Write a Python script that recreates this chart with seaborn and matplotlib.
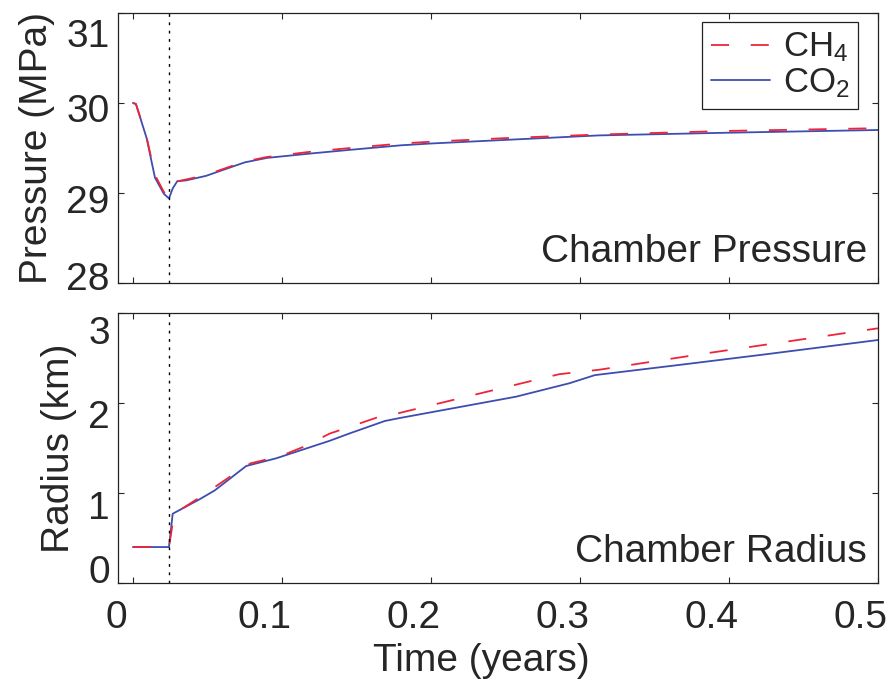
import pandas as pd
import seaborn as sns
import matplotlib.pyplot as plt
from matplotlib.lines import Line2D
from matplotlib.transforms import ScaledTranslation

# --- data ---
# chamber pressure (MPa)
t_p_co2 = [0.0, 0.002, 0.0092, 0.0148, 0.0208, 0.0242, 0.0267, 0.0297, 0.0357, 0.049,
           0.075, 0.09, 0.12, 0.146, 0.18, 0.2, 0.25, 0.313, 0.4, 0.5]
p_co2 = [30.0, 29.99, 29.61, 29.17, 28.99, 28.94, 29.05, 29.13, 29.14, 29.19,
         29.34, 29.39, 29.44, 29.48, 29.53, 29.55, 29.59, 29.64, 29.67, 29.70]
t_p_ch4 = [0.0, 0.002, 0.0092, 0.0148, 0.0208, 0.0242, 0.0267, 0.0297, 0.0357, 0.049,
           0.075, 0.09, 0.12, 0.146, 0.18, 0.2, 0.25, 0.313, 0.4, 0.5]
p_ch4 = [30.0, 29.99, 29.62, 29.20, 29.01, 28.97, 29.06, 29.13, 29.15, 29.20,
         29.35, 29.40, 29.46, 29.50, 29.55, 29.57, 29.61, 29.65, 29.69, 29.72]

# chamber radius (km)
t_r_co2 = [0.0, 0.0242, 0.0267, 0.0447, 0.055, 0.076, 0.096, 0.132, 0.145, 0.169,
           0.178, 0.257, 0.293, 0.31, 0.37, 0.424, 0.5]
r_co2 = [0.40, 0.40, 0.77, 0.93, 1.03, 1.30, 1.385, 1.58, 1.66, 1.80,
         1.83, 2.07, 2.22, 2.31, 2.43, 2.54, 2.70]
t_r_ch4 = [0.0, 0.0242, 0.0277, 0.0447, 0.065, 0.079, 0.099, 0.114, 0.132, 0.164,
           0.178, 0.286, 0.313, 0.388, 0.5]
r_ch4 = [0.40, 0.40, 0.77, 0.95, 1.18, 1.33, 1.41, 1.51, 1.66, 1.84,
         1.886, 2.32, 2.37, 2.56, 2.83]

t_event = 0.0242
gas_labels = [r'$\mathregular{CH_4}$', r'$\mathregular{CO_2}$']
x_ticks = [0, 0.1, 0.2, 0.3, 0.4, 0.5]
x_ticklabels = ['0', '0.1', '0.2', '0.3', '0.4', '0.5']

pres = pd.concat([
    pd.DataFrame({'t': t_p_co2, 'v': p_co2, 'gas': 'CO2'}),
    pd.DataFrame({'t': t_p_ch4, 'v': p_ch4, 'gas': 'CH4'}),
])
rad = pd.concat([
    pd.DataFrame({'t': t_r_co2, 'v': r_co2, 'gas': 'CO2'}),
    pd.DataFrame({'t': t_r_ch4, 'v': r_ch4, 'gas': 'CH4'}),
])

sns.set_style('ticks')
plt.rcParams['font.family'] = ['Liberation Sans', 'DejaVu Sans']
plt.rcParams['mathtext.default'] = 'regular'

colors = {'CH4': '#ee2538', 'CO2': '#3d4db0'}
dashes = {'CH4': (10, 12), 'CO2': ''}
FS = 28

fig = plt.figure(figsize=(8.92, 6.89), dpi=100)
ax1 = fig.add_axes([0.1323, 0.5893, 0.8520, 0.3918])
ax2 = fig.add_axes([0.1323, 0.1538, 0.8520, 0.3919])

for ax, df in [(ax1, pres), (ax2, rad)]:
    # CO2 first so the red dashes sit on top
    sns.lineplot(data=df, x='t', y='v', hue='gas', style='gas',
                 hue_order=['CO2', 'CH4'], style_order=['CO2', 'CH4'],
                 palette=colors, dashes=dashes, estimator=None, sort=False,
                 lw=1.3, legend=False, ax=ax)
    ax.axvline(t_event, color='k', ls=(0, (2, 4)), lw=1)
    ax.set_xlim(-0.01, 0.5)
    ax.set_xticks(x_ticks)
    ax.tick_params(direction='in', top=True, right=True, length=4, width=0.8,
                   labelsize=FS)
    ax.tick_params(axis='y', pad=6)
    ax.tick_params(axis='x', pad=12)
    for s in ax.spines.values():
        s.set_linewidth(0.9)
        s.set_color('#222222')

ax1.set_ylim(28, 31)
ax1.set_yticks([28, 29, 30, 31])
ax1.set_xticklabels([])
ax1.set_xlabel('')
ax1.set_ylabel('Pressure (MPa)', fontsize=FS, labelpad=8)
ax1.text(0.9855, 0.078, 'Chamber Pressure', transform=ax1.transAxes,
         ha='right', va='baseline', fontsize=FS)

ax2.set_ylim(0, 3)
ax2.set_yticks([0, 1, 2, 3])
ax2.set_xticklabels(x_ticklabels)
ax2.set_xlabel('Time (years)', fontsize=FS)
ax2.xaxis.set_label_coords(0.478, -0.222)
ax2.set_ylabel('Radius (km)', fontsize=FS, labelpad=8)
ax2.text(0.9855, 0.078, 'Chamber Radius', transform=ax2.transAxes,
         ha='right', va='baseline', fontsize=FS)


def shift(lab, dx, dy):
    lab.set_transform(lab.get_transform() +
                      ScaledTranslation(dx / 100, dy / 100, fig.dpi_scale_trans))


# tick labels in the reference sit a little off their ticks
for lab in ax2.get_xticklabels():
    shift(lab, -17, 0)
for lab, dy in zip(ax1.get_yticklabels(), [7, -6, -5, -20]):
    shift(lab, 0, dy)
for lab, dy in zip(ax2.get_yticklabels(), [14, -12, -11, -17]):
    shift(lab, 0, dy)

handles = [Line2D([], [], color=colors['CH4'], lw=1.3, dashes=dashes['CH4']),
           Line2D([], [], color=colors['CO2'], lw=1.3)]
leg = ax1.legend(handles, gas_labels, loc='upper right',
                 bbox_to_anchor=(0.9737, 0.9667), borderaxespad=0,
                 fontsize=25, handlelength=1.72, handletextpad=0.35,
                 labelspacing=0.05, borderpad=0.25, fancybox=False,
                 framealpha=1, edgecolor='#222222')
leg.get_frame().set_linewidth(0.9)

fig.savefig('out.png', dpi=100)
